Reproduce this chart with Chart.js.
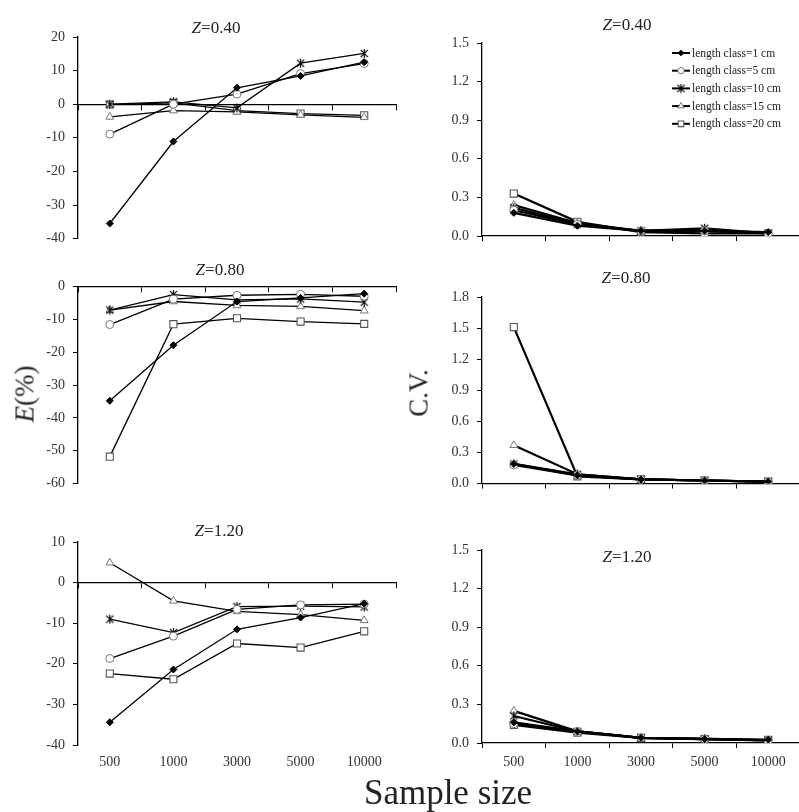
<!DOCTYPE html>
<html>
<head>
<meta charset="utf-8">
<title>E(%) and C.V. by sample size</title>
<script src="https://cdn.jsdelivr.net/npm/chart.js"></script>
<style>
    body { margin: 0; width: 799px; height: 812px; overflow: hidden; position: relative; background: #fff;
           font-family: "Liberation Serif", "Times New Roman", serif; color: #222; }
    canvas { position: absolute; }
    .lbl { position: absolute; white-space: nowrap; line-height: 1; transform: translate(-50%, -50%); }
    .ztitle { font-size: 17px; }
    .ylab { font-size: 27px; transform: translate(-50%, -50%) rotate(-90deg); }
    .xlab { font-size: 35px; }
</style>
</head>
<body>
<canvas id="eZ040"></canvas>
<canvas id="cvZ040"></canvas>
<canvas id="eZ080"></canvas>
<canvas id="cvZ080"></canvas>
<canvas id="eZ120"></canvas>
<canvas id="cvZ120"></canvas>

<div class="lbl ztitle" style="left:216px; top:27px"><i>Z</i>=0.40</div>
<div class="lbl ztitle" style="left:627px; top:24px"><i>Z</i>=0.40</div>
<div class="lbl ztitle" style="left:220px; top:269px"><i>Z</i>=0.80</div>
<div class="lbl ztitle" style="left:626px; top:277px"><i>Z</i>=0.80</div>
<div class="lbl ztitle" style="left:219px; top:530px"><i>Z</i>=1.20</div>
<div class="lbl ztitle" style="left:627px; top:556px"><i>Z</i>=1.20</div>
<div class="lbl ylab" style="left:25px; top:394px"><i>E</i>(%)</div>
<div class="lbl ylab" style="left:419px; top:393px">C.V.</div>
<div class="lbl xlab" style="left:448px; top:792px">Sample size</div>

<script>
const sampleSizes = ['500', '1000', '3000', '5000', '10000'];
const lengthClasses = ['length class=1 cm', 'length class=5 cm', 'length class=10 cm',
                       'length class=15 cm', 'length class=20 cm'];

// rows follow lengthClasses (1, 5, 10, 15, 20 cm), columns follow sampleSizes
const errZ040 = [
    [-35.5, -11.1, 4.9, 8.4, 12.5],
    [-8.9, 0.0, 3.0, 9.1, 12.1],
    [0.0, 0.7, -1.1, 12.2, 15.1],
    [-3.8, -1.9, -2.3, -3.2, -3.9],
    [-0.1, 0.4, -1.9, -2.8, -3.3]
];
const errZ080 = [
    [-34.8, -17.9, -4.6, -3.5, -2.2],
    [-11.6, -3.9, -2.7, -2.4, -3.0],
    [-7.2, -2.5, -4.1, -3.8, -4.8],
    [-7.2, -4.6, -5.8, -6.1, -7.4],
    [-51.8, -11.5, -9.7, -10.7, -11.4]
];
const errZ120 = [
    [-34.4, -21.4, -11.5, -8.6, -5.2],
    [-18.7, -13.2, -6.6, -5.5, -5.3],
    [-9.0, -12.3, -5.9, -5.8, -6.0],
    [4.9, -4.5, -7.1, -7.9, -9.3],
    [-22.4, -23.8, -15.0, -16.0, -12.0]
];
const cvZ040 = [
    [0.18, 0.08, 0.04, 0.04, 0.03],
    [0.20, 0.09, 0.04, 0.04, 0.02],
    [0.22, 0.09, 0.04, 0.06, 0.02],
    [0.24, 0.10, 0.04, 0.05, 0.02],
    [0.33, 0.11, 0.03, 0.02, 0.02]
];
const cvZ080 = [
    [0.19, 0.08, 0.04, 0.03, 0.02],
    [0.18, 0.08, 0.04, 0.03, 0.02],
    [0.19, 0.09, 0.04, 0.03, 0.02],
    [0.37, 0.09, 0.04, 0.03, 0.02],
    [1.51, 0.07, 0.04, 0.03, 0.02]
];
const cvZ120 = [
    [0.16, 0.09, 0.04, 0.03, 0.025],
    [0.15, 0.09, 0.04, 0.03, 0.02],
    [0.21, 0.09, 0.04, 0.03, 0.02],
    [0.25, 0.09, 0.04, 0.035, 0.02],
    [0.14, 0.08, 0.04, 0.03, 0.025]
];

// y axis ranges: [min, max, step]
const errRangeZ040 = [-40, 20, 10];
const errRangeZ080 = [-60, 0, 10];
const errRangeZ120 = [-40, 10, 10];
const cvRangeZ040 = [0, 1.5, 0.3];
const cvRangeZ080 = [0, 1.8, 0.3];
const cvRangeZ120 = [0, 1.5, 0.3];

// asterisk marker (x plus a vertical bar), like the spreadsheet "star"
function asteriskMarker(size) {
    const c = document.createElement('canvas');
    c.width = size;
    c.height = size;
    const g = c.getContext('2d');
    const m = size / 2, r = size / 2 - 1;
    g.strokeStyle = '#000';
    g.lineWidth = 1.2;
    g.beginPath();
    g.moveTo(m - r * 0.8, m - r * 0.8); g.lineTo(m + r * 0.8, m + r * 0.8);
    g.moveTo(m + r * 0.8, m - r * 0.8); g.lineTo(m - r * 0.8, m + r * 0.8);
    g.moveTo(m, m - r); g.lineTo(m, m + r);
    g.stroke();
    return c;
}

// marker style per length class
const markers = [
    { pointStyle: 'rectRot', pointRadius: 3.5, pointBackgroundColor: '#000', pointBorderColor: '#000', pointBorderWidth: 1 },
    { pointStyle: 'circle', pointRadius: 4, pointBackgroundColor: '#fff', pointBorderColor: '#777', pointBorderWidth: 1 },
    { pointStyle: asteriskMarker(11), pointRadius: 5, pointBackgroundColor: '#000', pointBorderColor: '#000', pointBorderWidth: 1 },
    { pointStyle: 'triangle', pointRadius: 4.5, pointBackgroundColor: '#fff', pointBorderColor: '#777', pointBorderWidth: 1 },
    { pointStyle: 'rect', pointRadius: 5, pointBackgroundColor: '#fff', pointBorderColor: '#555', pointBorderWidth: 1.1 }
];

const tickFont = { family: '"Liberation Serif", "Times New Roman", serif', size: 14 };
const Y_AXIS_W = 50;

// legend with a line + marker sample, drawn inside the top right panel
const lineLegend = {
    id: 'lineLegend',
    afterDraw(chart, args, opts) {
        if (!opts.show) return;
        const ctx = chart.ctx;
        const drawPoint = Chart.helpers && Chart.helpers.drawPoint;
        ctx.save();
        chart.data.datasets.forEach((ds, i) => {
            const y = opts.y + i * opts.gap;
            ctx.strokeStyle = '#000';
            ctx.lineWidth = 2;
            ctx.beginPath();
            ctx.moveTo(opts.x, y);
            ctx.lineTo(opts.x + 18, y);
            ctx.stroke();
            if (drawPoint) {
                ctx.fillStyle = ds.pointBackgroundColor;
                ctx.strokeStyle = ds.pointBorderColor;
                ctx.lineWidth = ds.pointBorderWidth;
                drawPoint(ctx, { pointStyle: ds.pointStyle, radius: ds.pointRadius * 0.8,
                                 borderWidth: ds.pointBorderWidth, rotation: 0 }, opts.x + 9, y);
            }
            ctx.fillStyle = '#222';
            ctx.font = '11.5px "Liberation Serif", serif';
            ctx.textBaseline = 'middle';
            ctx.fillText(ds.label, opts.x + 20, y + 0.5);
        });
        ctx.restore();
    }
};

function buildPanel(cfg) {
    const canvas = document.getElementById(cfg.id);
    canvas.width = cfg.box.w;
    canvas.height = cfg.box.h;
    canvas.style.left = cfg.box.x + 'px';
    canvas.style.top = cfg.box.y + 'px';

    const [yMin, yMax, yStep] = cfg.range;
    const xHeight = cfg.zeroAxis ? (cfg.showLabels ? 30 : 0) : (cfg.showLabels ? 30 : 6);

    const datasets = cfg.values.map((row, i) => Object.assign({
        label: lengthClasses[i],
        data: row,
        borderColor: '#000',
        borderWidth: cfg.lineWidth,
        tension: 0,
        fill: false
    }, markers[i]));

    const tickAxis = {
        type: 'category',
        offset: true,
        grid: { offset: true, drawOnChartArea: false, drawTicks: true, tickLength: 5, color: '#000', lineWidth: 1 },
        border: { display: true, color: '#000', width: 1.3 },
        ticks: { display: !cfg.zeroAxis && cfg.showLabels, padding: 6, color: '#333', font: tickFont, maxRotation: 0 }
    };

    const scales = {
        y: {
            position: 'left',
            min: yMin,
            max: yMax,
            grid: { drawOnChartArea: false, drawTicks: true, tickLength: 5, color: '#000', lineWidth: 1 },
            border: { display: true, color: '#000', width: 1.3 },
            ticks: {
                stepSize: yStep, padding: 8, color: '#333', font: tickFont,
                callback: v => yStep < 1 ? Number(v).toFixed(1) : Math.round(v)
            },
            afterFit: s => { s.width = Y_AXIS_W; }
        }
    };

    if (cfg.zeroAxis) {
        scales.x = Object.assign({}, tickAxis, { position: { y: 0 } });
        if (cfg.showLabels) {
            scales.x2 = {
                type: 'category',
                position: 'bottom',
                offset: true,
                grid: { display: false, drawTicks: false },
                border: { display: false },
                ticks: { padding: 9, color: '#333', font: tickFont, maxRotation: 0 },
                afterFit: s => { s.height = xHeight; }
            };
        }
    } else {
        scales.x = Object.assign({}, tickAxis, {
            position: 'bottom',
            afterFit: s => { s.height = xHeight; }
        });
    }

    const padding = {
        left: cfg.plot.left - cfg.box.x - Y_AXIS_W,
        top: cfg.plot.top - cfg.box.y,
        right: cfg.box.x + cfg.box.w - cfg.plot.right,
        bottom: cfg.box.y + cfg.box.h - cfg.plot.bottom - xHeight
    };

    return new Chart(canvas, {
        type: 'line',
        data: { labels: sampleSizes, datasets: datasets },
        options: {
            responsive: false,
            animation: false,
            devicePixelRatio: 1,
            layout: { padding: padding, autoPadding: false },
            scales: scales,
            plugins: {
                legend: { display: false },
                tooltip: { enabled: false },
                lineLegend: cfg.legend || { show: false }
            }
        },
        plugins: [lineLegend]
    });
}

buildPanel({ id: 'eZ040', values: errZ040, range: errRangeZ040, zeroAxis: true, showLabels: false, lineWidth: 1.3,
             box: { x: 0, y: 20, w: 400, h: 235 }, plot: { left: 78, top: 37, right: 396, bottom: 240 } });
buildPanel({ id: 'cvZ040', values: cvZ040, range: cvRangeZ040, zeroAxis: false, showLabels: false, lineWidth: 2.2,
             box: { x: 400, y: 20, w: 400, h: 235 }, plot: { left: 482, top: 43, right: 800, bottom: 236 },
             legend: { show: true, x: 272, y: 33, gap: 17.7 } });
buildPanel({ id: 'eZ080', values: errZ080, range: errRangeZ080, zeroAxis: true, showLabels: false, lineWidth: 1.3,
             box: { x: 0, y: 270, w: 400, h: 230 }, plot: { left: 78, top: 284, right: 396, bottom: 487 } });
buildPanel({ id: 'cvZ080', values: cvZ080, range: cvRangeZ080, zeroAxis: false, showLabels: false, lineWidth: 2.2,
             box: { x: 400, y: 270, w: 400, h: 230 }, plot: { left: 482, top: 297, right: 800, bottom: 489 } });
buildPanel({ id: 'eZ120', values: errZ120, range: errRangeZ120, zeroAxis: true, showLabels: true, lineWidth: 1.3,
             box: { x: 0, y: 520, w: 400, h: 270 }, plot: { left: 78, top: 542, right: 396, bottom: 745 } });
buildPanel({ id: 'cvZ120', values: cvZ120, range: cvRangeZ120, zeroAxis: false, showLabels: true, lineWidth: 2.2,
             box: { x: 400, y: 520, w: 400, h: 270 }, plot: { left: 482, top: 550, right: 800, bottom: 743 } });
</script>
</body>
</html>
